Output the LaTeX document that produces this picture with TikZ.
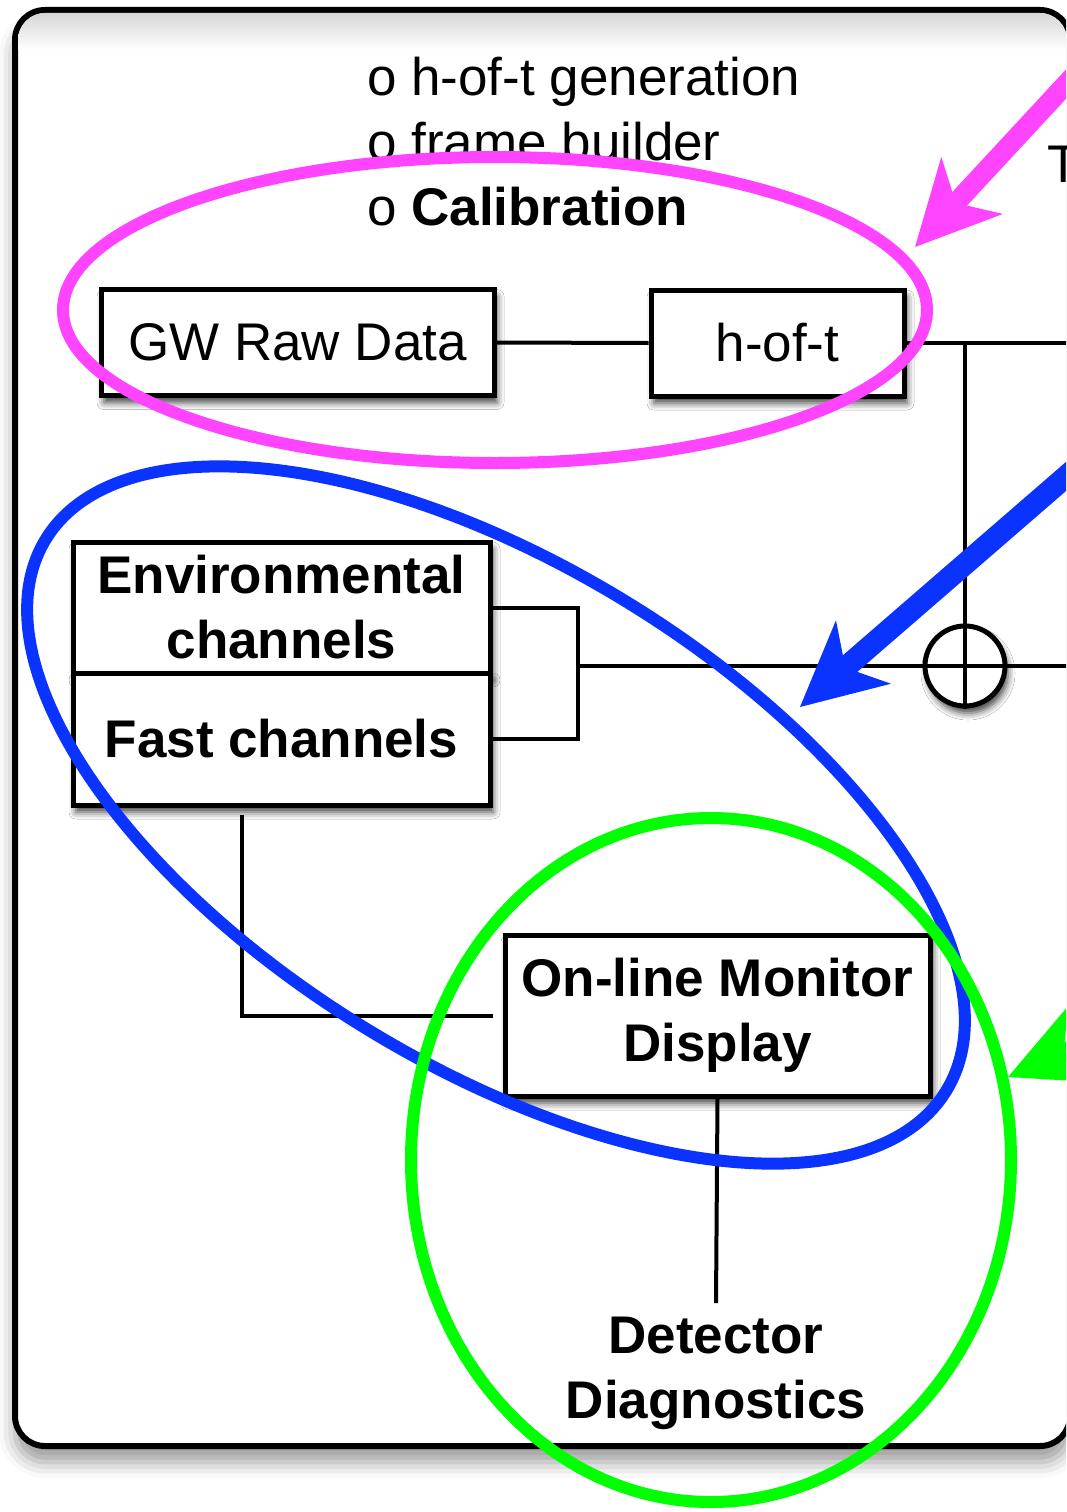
\documentclass[tikz,border=0pt]{standalone}
\usepackage{fontspec}
\setmainfont{Liberation Sans}
\usetikzlibrary{arrows.meta,shadows.blur,calc}
\definecolor{calmag}{HTML}{FF44FF}
\definecolor{envblue}{HTML}{0A33FF}
\definecolor{diagreen}{HTML}{00FF00}
\tikzset{
  big/.style={font=\fontsize{53}{65}\selectfont},
  bigbold/.style={font=\fontsize{53}{65}\selectfont\bfseries},
  softshadow/.style={blur shadow={shadow xshift=3pt, shadow yshift=-7pt,
      shadow blur radius=7pt, shadow opacity=75}},
  blockbox/.style={draw, line width=5pt, fill=white, inner sep=0pt,
      align=center, softshadow},
  conn/.style={line width=4pt},
  ring/.style={line width=12pt},
  pointer/.style={line width=#1pt,
      -{Stealth[length=84pt, width=84pt, inset=24pt, line width=0pt]}},
}
\begin{document}
\begin{tikzpicture}[x=1pt, y=-1pt]
\useasboundingbox (0,0) rectangle (1066,1512);
\clip (0,0) rectangle (1066,1512);

% outer panel
\draw[line width=6pt, rounded corners=30pt, fill=white,
      blur shadow={shadow xshift=0pt, shadow yshift=-16pt,
      shadow blur radius=16pt, shadow opacity=40}]
  (15,10) rectangle (1070,1446);
\begin{scope}
  \clip[rounded corners=27pt] (18,13) rectangle (1067,1443);
  \shade[top color=black!16, bottom color=white] (18,13) rectangle (1067,50);
\end{scope}

% task list and cut-off label
\node[big, anchor=north west, inner sep=0pt, align=left] (tasks) at (367,57)
  {o h-of-t generation\\o frame builder\\o \textbf{Calibration}};
\node[big, anchor=base west, inner sep=0pt] (tlabel) at (1047,182) {T};

% blocks
\node[blockbox, big, minimum width=393pt, minimum height=106pt] (raw)
  at (297.5,342.5) {GW Raw Data};
\node[blockbox, big, minimum width=253pt, minimum height=106pt] (hoft)
  at (777.5,343) {h-of-t};
\node[blockbox, bigbold, minimum width=417pt, minimum height=131pt] (env)
  at (281.5,607.5) {Environmental\\channels};
\node[blockbox, bigbold, minimum width=417pt, minimum height=132pt] (fast)
  at (281.5,739) {Fast channels};
\node[blockbox, bigbold, minimum width=425pt, minimum height=161pt] (omd)
  at (717.5,1015.5) {On-line Monitor\\Display};
\node[circle, draw, line width=5pt, fill=white, minimum size=80pt,
      inner sep=0pt, softshadow] (sum) at (965,666) {};
\node[bigbold, align=center, inner sep=0pt, anchor=north] (diag)
  at (716,1317) {Detector\\Diagnostics};

% signal lines
\coordinate (outH) at (1075,343);
\coordinate (outS) at (1075,666);
\coordinate (bk) at (578,666);
\draw[conn] (raw.east) -- (hoft.west);
\draw[conn] (hoft.east) -- (outH);
\draw[conn] (sum.north |- hoft.east) -- (sum.north);
\draw[conn] (env.east) -| (bk) |- (fast.east);
\draw[conn] (bk) -- (sum.west);
\draw[conn] (sum.east) -- (outS);
\draw[conn] (sum.north) -- (sum.south);
\draw[conn] (sum.west) -- (sum.east);
\draw[conn] ([xshift=-39.5pt, yshift=-7pt]fast.south) |- ([xshift=-10pt]omd.west);
\draw[conn] (omd.south) -- ([yshift=14pt]diag.north);

% highlight rings
\draw[ring, calmag] (495,310) ellipse [x radius=432, y radius=153];
\draw[ring, envblue, rotate around={-31.5:(496,815)}]
  (496,815) ellipse [x radius=528, y radius=250];
\draw[ring, diagreen] (711,1160) ellipse [x radius=300, y radius=342];

% pointers
\coordinate (magFrom) at (1093,55);
\coordinate (magTip) at (915,247);
\coordinate (blueFrom) at (1100,447);
\coordinate (blueTip) at (800,707);
\coordinate (greenFrom) at (1146,1018);
\coordinate (greenTip) at (1008,1077);
\draw[calmag, pointer=20] (magFrom) -- (magTip);
\draw[envblue, pointer=22] (blueFrom) -- (blueTip);
\draw[diagreen, pointer=20] (greenFrom) -- (greenTip);
\end{tikzpicture}
\end{document}
